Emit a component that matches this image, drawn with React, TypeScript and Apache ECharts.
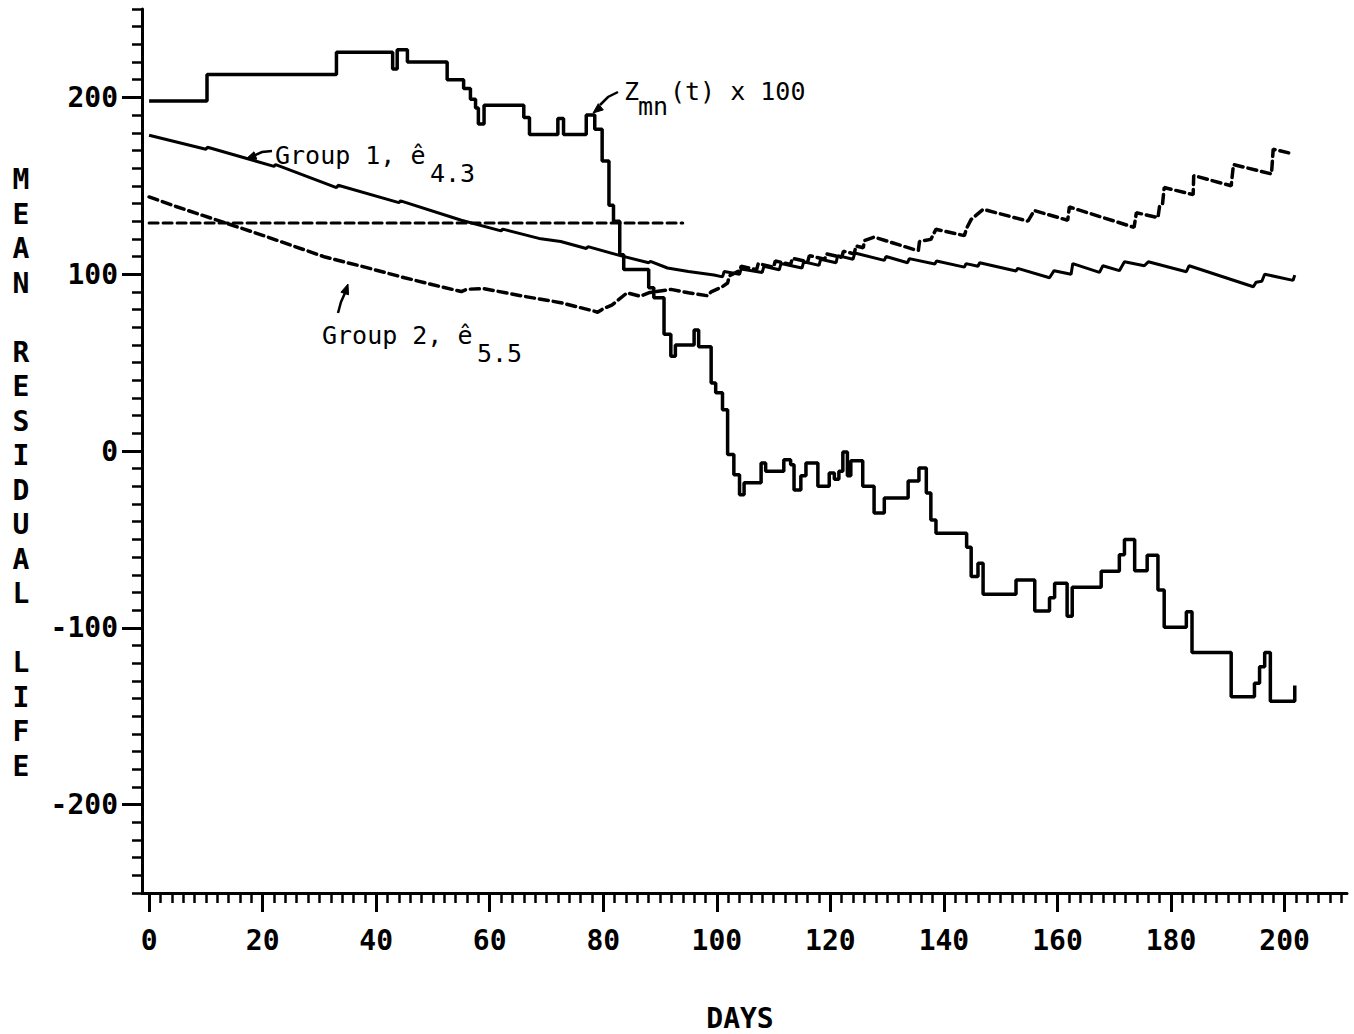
import React, { useEffect, useRef } from "react";
import * as echarts from "echarts";

// Z_mn(t) x 100 : [day at which level starts, level]
const zSteps: [number, number][] = [
  [0, 198], [10.2, 213], [33, 225.5], [42.9, 216], [43.7, 227], [45.5, 220],
  [52.5, 210], [55.4, 205], [56.6, 199], [57.5, 194], [58.0, 185], [59.0, 195.5],
  [66.0, 188.7], [67.0, 179], [72.0, 188], [73.0, 179], [77.0, 190], [78.5, 182],
  [79.8, 164], [81.0, 139], [81.8, 130], [82.9, 111], [83.6, 102.7], [88.0, 92.3],
  [88.9, 86.7], [90.7, 66], [91.9, 53.6], [92.7, 60], [96.0, 68.4], [96.8, 59],
  [99.0, 38.5], [99.8, 33], [101.0, 23.4], [101.9, -2], [103.0, -13.4], [104.0, -24.7],
  [104.8, -18], [107.8, -6.8], [108.6, -11.5], [111.8, -5], [113.0, -7.8], [113.6, -22],
  [114.8, -14], [115.7, -6.8], [117.8, -20], [119.8, -12.5], [120.7, -16], [121.5, -11.5],
  [122.2, -0.6], [123.0, -14], [123.6, -5.5], [125.7, -20], [127.7, -35], [129.5, -26.6],
  [133.7, -17], [135.6, -9.6], [136.9, -23.8], [137.7, -39], [138.6, -46.5], [144.0, -54.4],
  [144.8, -71], [146.0, -63.5], [146.9, -81], [152.7, -73], [156.0, -90.5], [158.6, -83],
  [159.5, -74.8], [161.7, -93.5], [162.6, -77], [167.7, -68], [170.9, -58.7], [171.8, -50],
  [173.6, -67.8], [175.8, -59], [177.7, -78.6], [178.8, -99.7], [182.7, -90.9], [183.7, -114],
  [190.6, -139], [194.7, -131.4], [195.6, -122], [196.5, -114], [197.5, -141.5], [201.8, -132.6],
];

// Group 1, e-hat 4.3 (solid)
const group1: [number, number][] = [
  [0, 178.6], [10, 170.7], [10.3, 171.8], [22, 161], [22.3, 162], [33, 149], [33.3, 150.3],
  [44, 140.5], [44.3, 141.5], [55, 130.5], [62, 124.5], [62.3, 125.5], [69, 120], [72.5, 118.5],
  [77, 114.5], [77.3, 115.6], [83, 110.5], [88, 106.5], [88.3, 107.3], [91.3, 103.5], [95, 101.5],
  [99.5, 99.5], [101, 98.5], [101.3, 101.5], [104, 100], [104.3, 103], [108, 101], [108.3, 104.5],
  [111, 102.5], [111.3, 106], [115, 103.5], [115.3, 107], [118, 105], [118.3, 108.5], [121, 106.5],
  [121.3, 110.5], [124, 108.5], [124.3, 112], [129.5, 107.8], [129.8, 110], [133.6, 106.5],
  [133.9, 108.8], [138.4, 105.8], [138.7, 107.5], [143.6, 104], [143.9, 106], [146, 104.5],
  [146.3, 106.5], [152.7, 101.8], [153, 103.3], [158.6, 98], [159.4, 102], [162.4, 100],
  [162.7, 106], [167.4, 101], [168, 104.8], [170.9, 102], [171.8, 107], [175.3, 104.8], [176, 107],
  [182.7, 101.4], [183.2, 104.8], [194.5, 92.9], [195, 95.5], [196, 96], [196.5, 100],
  [201.5, 96.5], [201.8, 99.5],
];

// Group 2, e-hat 5.5 (dashed)
const group2: [number, number][] = [
  [0, 143.7], [5, 138], [11, 131.6], [20, 122], [31, 109.7], [38, 104], [45, 98], [50, 94],
  [55, 90.2], [56, 91.5], [59, 91.8], [66, 87.5], [72.5, 83.9], [78.4, 79.1], [79, 78.5],
  [80, 80.5], [81.5, 82.5], [84.2, 89.5], [86.5, 87.5], [88, 89.5], [91.9, 91.4], [95, 89.5],
  [98.4, 87.8], [99, 90], [101, 93], [101.9, 95], [102.2, 99], [104, 102], [104.3, 104.5],
  [107, 102.5], [107.3, 106], [110, 104], [110.3, 107.5], [113, 105.5], [113.3, 109], [116, 107],
  [116.3, 110.5], [119, 108.5], [119.3, 111.5], [122, 109.5], [122.3, 113], [124.2, 111.5],
  [124.5, 116], [125.8, 115], [126, 119], [127.7, 121], [134.7, 114], [135.5, 113.5],
  [135.7, 118.5], [137.7, 119.7], [138.6, 125.4], [143.6, 121.8], [144, 126], [144.8, 131],
  [146.9, 136.7], [154.8, 130], [155.9, 136], [161.8, 130.5], [162.1, 138], [173.5, 126.5],
  [173.9, 134.8], [177.7, 132], [178, 138.8], [178.5, 139.5], [178.8, 149], [183.9, 145],
  [184, 155.8], [190.6, 150], [191, 162], [197.7, 156.7], [198, 170.7], [201.5, 168],
];

// horizontal dashed reference
const refLine: [number, number][] = [[0, 129], [94, 129]];

const xTicks = [0, 20, 40, 60, 80, 100, 120, 140, 160, 180, 200];
const xMinorTicks = Array.from({ length: 106 }, (_, i) => i * 2);
const yTicks = [-200, -100, 0, 100, 200];

const MONO = '"DejaVu Sans Mono", monospace';
const BLACK = "#000";

function txt(text: string, x: number, y: number, size: number, weight = "normal", align = "left") {
  return {
    type: "text",
    x,
    y,
    z: 100,
    style: {
      text,
      fill: BLACK,
      fontSize: size,
      fontFamily: MONO,
      fontWeight: weight,
      align,
      textAlign: align,
      verticalAlign: "middle",
      textVerticalAlign: "middle",
    },
  };
}

function arrow(shaft: number[][], head: number[][]) {
  return [
    { type: "polyline", z: 100, shape: { points: shaft }, style: { stroke: BLACK, lineWidth: 2.5, fill: null } },
    { type: "polygon", z: 100, shape: { points: head }, style: { fill: BLACK, stroke: BLACK, lineWidth: 1 } },
  ];
}

export default function App() {
  const ref = useRef<HTMLDivElement>(null);
  useEffect(() => {
    document.body.style.margin = "0";
    const chart = echarts.init(ref.current!, null, { renderer: "svg" });
    const tickStyle = { color: BLACK, width: 3 };
    const lineBase = { type: "line", showSymbol: false, symbol: "none", xAxisIndex: 0, yAxisIndex: 0 };
    chart.setOption({
      animation: false,
      backgroundColor: "#fff",
      grid: { left: 142, right: 7, top: 9, bottom: 141, containLabel: false },
      xAxis: [
        {
          type: "value", min: -1.25, max: 211, position: "bottom",
          axisLine: { show: true, onZero: false, lineStyle: { color: BLACK, width: 3 } },
          splitLine: { show: false },
          axisTick: { show: true, inside: false, length: 19, lineStyle: tickStyle, customValues: xTicks },
          axisLabel: {
            show: true, customValues: xTicks, margin: 33, color: BLACK,
            fontFamily: MONO, fontWeight: "bold", fontSize: 28,
          },
        },
        {
          type: "value", min: -1.25, max: 211, position: "bottom",
          axisLine: { show: false, onZero: false }, splitLine: { show: false },
          axisTick: { show: true, inside: false, length: 10, lineStyle: { color: BLACK, width: 2.5 }, customValues: xMinorTicks },
          axisLabel: { show: false },
        },
      ],
      yAxis: [
        {
          type: "value", min: -250, max: 250, position: "left",
          axisLine: { show: true, onZero: false, lineStyle: { color: BLACK, width: 3 } },
          splitLine: { show: false },
          axisTick: { show: true, inside: false, length: 20, lineStyle: tickStyle, customValues: yTicks },
          axisLabel: {
            show: true, customValues: yTicks, margin: 24, color: BLACK,
            fontFamily: MONO, fontWeight: "bold", fontSize: 28,
          },
        },
        {
          type: "value", min: -250, max: 250, interval: 10, position: "left",
          axisLine: { show: false, onZero: false }, splitLine: { show: false },
          axisTick: { show: true, inside: false, length: 10, lineStyle: { color: BLACK, width: 2.5 } },
          axisLabel: { show: false },
        },
      ],
      series: [
        { ...lineBase, name: "Z", step: "end", data: zSteps, lineStyle: { color: BLACK, width: 3.5 } },
        { ...lineBase, name: "Group 1", data: group1, lineStyle: { color: BLACK, width: 3 } },
        { ...lineBase, name: "Group 2", data: group2, lineStyle: { color: BLACK, width: 3.5, type: [9, 5], cap: "round" } },
        { ...lineBase, name: "ref", data: refLine, lineStyle: { color: BLACK, width: 3, type: [9, 5], cap: "round" } },
      ],
      graphic: [
        {
          type: "text", x: 21, y: 473, z: 100,
          style: {
            text: "M\nE\nA\nN\n\nR\nE\nS\nI\nD\nU\nA\nL\n\nL\nI\nF\nE",
            fill: BLACK, fontSize: 28, fontFamily: MONO, fontWeight: "bold", lineHeight: 34.5,
            align: "center", textAlign: "center", verticalAlign: "middle", textVerticalAlign: "middle",
          },
        },
        txt("DAYS", 740, 1018, 28, "bold", "center"),
        txt("Group 1, ê", 275, 155, 25),
        txt("4.3", 430, 173, 25),
        txt("Group 2, ê", 322, 335, 25),
        txt("5.5", 477, 353, 25),
        txt("Z", 624, 91, 25),
        txt("mn", 638, 106, 25),
        txt("(t) x 100", 670, 91, 25),
        ...arrow([[272, 151], [262, 152], [254, 155.5]], [[246, 159], [256.8, 159.2], [254, 151.8]]),
        ...arrow([[338, 313], [341, 302], [345, 293]], [[348, 284], [348.5, 294.8], [340.9, 292.2]]),
        ...arrow([[618, 92], [608, 97], [600, 105]], [[593, 113], [603.3, 109.9], [598.3, 103.7]]),
      ],
    });
    return () => chart.dispose();
  }, []);
  return <div ref={ref} style={{ width: 1354, height: 1034, background: "#fff" }} />;
}
